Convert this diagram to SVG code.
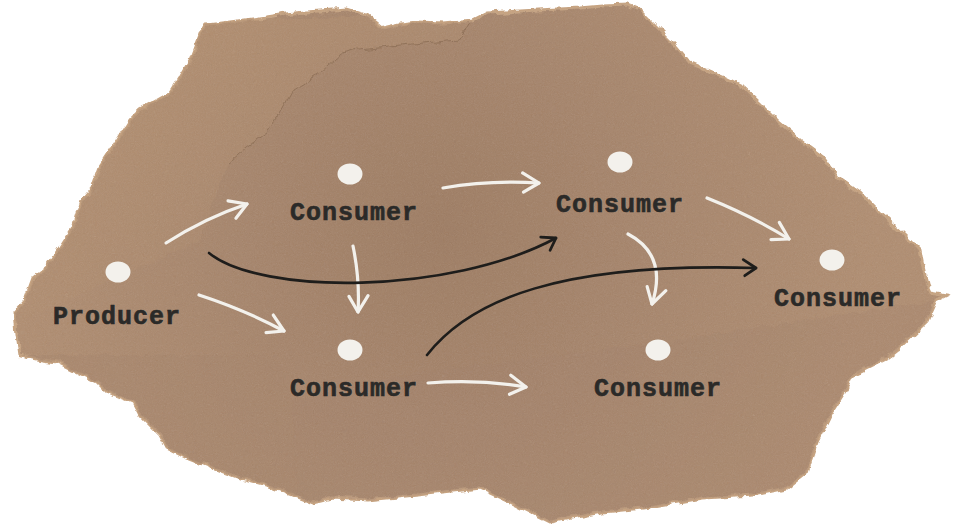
<svg xmlns="http://www.w3.org/2000/svg" width="953" height="525" viewBox="0 0 953 525">
  <defs>
    <style>
      .label { font-family: "Liberation Mono", "DejaVu Sans Mono", monospace; font-weight: bold; font-size: 25px; letter-spacing: 1px; fill: #2b2a28; stroke: #2b2a28; stroke-width: 0.6; text-anchor: middle; }
      .dot { fill: #f3f1ec; }
      .wire-w { fill: none; stroke: #f3f1ec; stroke-width: 3.2; stroke-linecap: round; stroke-linejoin: round; }
      .wire-b { fill: none; stroke: #1e1d1b; stroke-width: 2.6; stroke-linecap: round; stroke-linejoin: round; }
    </style>
    <marker id="headW" viewBox="-20 -12 24 24" markerWidth="24" markerHeight="24" refX="0" refY="0" orient="auto" markerUnits="userSpaceOnUse">
      <path d="M-17,-9 L0,0 L-15,10" fill="none" stroke="#f3f1ec" stroke-width="3.2" stroke-linecap="round" stroke-linejoin="round"/>
    </marker>
    <marker id="headB" viewBox="-20 -12 24 24" markerWidth="24" markerHeight="24" refX="0" refY="0" orient="auto" markerUnits="userSpaceOnUse">
      <path d="M-13,-8 L0,0 L-11,8" fill="none" stroke="#1e1d1b" stroke-width="2.8" stroke-linecap="round" stroke-linejoin="round"/>
    </marker>
    <radialGradient id="shade" cx="440" cy="230" r="430" gradientUnits="userSpaceOnUse">
      <stop offset="0" stop-color="#9e7c62"/>
      <stop offset="0.45" stop-color="#a6846a"/>
      <stop offset="1" stop-color="#b08d70"/>
    </radialGradient>
    <linearGradient id="fadeTL" x1="0" y1="0" x2="1" y2="1">
      <stop offset="0" stop-color="#b6916f" stop-opacity="0.8"/>
      <stop offset="0.6" stop-color="#b08d6f" stop-opacity="0.4"/>
      <stop offset="1" stop-color="#ad8b6e" stop-opacity="0"/>
    </linearGradient>
    <filter id="rough" x="-5%" y="-5%" width="110%" height="110%">
      <feTurbulence type="fractalNoise" baseFrequency="0.09" numOctaves="3" seed="4" result="t"/>
      <feDisplacementMap in="SourceGraphic" in2="t" scale="7" xChannelSelector="R" yChannelSelector="G"/>
    </filter>
    <filter id="grain" x="0" y="0" width="100%" height="100%">
      <feTurbulence type="fractalNoise" baseFrequency="0.9" numOctaves="2" seed="11"/>
      <feColorMatrix type="saturate" values="0"/>
    </filter>
    <clipPath id="paperClip">
      <path id="paperShape" d="M207,25 L230,22 L260,18 L293,13 L320,11 L347,9 L367,15 L383,28 L400,24 L417,22 L443,23 L473,20 L487,13 L537,10 L580,8 L603,6 L627,5 L640,10 L657,27 L677,47 L690,63 L723,77 L743,87 L760,103 L780,123 L800,140 L823,157 L837,177 L860,193 L880,213 L903,233 L920,250 L923,267 L927,285 L930,292 L947,295 L937,300 L927,322 L903,345 L887,358 L853,375 L847,388 L830,415 L817,442 L807,472 L787,488 L753,495 L703,498 L643,508 L603,512 L550,522 L510,502 L480,488 L417,495 L367,500 L333,498 L313,503 L293,495 L267,485 L240,478 L213,468 L187,458 L167,448 L160,435 L140,415 L133,402 L107,392 L97,382 L73,370 L57,362 L43,360 L20,355 L17,335 L15,311 L25,300 L33,278 L47,267 L60,247 L73,227 L80,203 L93,187 L100,167 L113,147 L130,120 L140,110 L170,93 L180,77 L190,60 L200,33 Z"/>
    </clipPath>
  </defs>

  <rect width="953" height="525" fill="#ffffff"/>

  <!-- torn paper background -->
  <g id="paper" filter="url(#rough)">
    <use href="#paperShape" fill="url(#shade)" stroke="#c6a381" stroke-width="3"/>
    <g clip-path="url(#paperClip)">
      <!-- upper-left layer beyond the inner tear -->
      <path d="M200,20 L480,15 L470,23 L460,40 L400,45 L357,49 L343,53 L320,73 L293,90 L280,113 L267,133 L247,147 L227,163 L200,240 L0,330 L0,20 Z" fill="url(#fadeTL)"/>
      <!-- lower-left flap -->
      <path d="M0,355 L275,355 L292,400 L300,525 L0,525 Z" fill="#a5846a" opacity="0.5"/>
      <!-- lower band -->
      <path d="M292,400 L420,372 L640,345 L940,300 L953,525 L300,525 Z" fill="#a3816a" opacity="0.3"/>
      <rect width="953" height="525" filter="url(#grain)" opacity="0.14"/>
    </g>
    <path d="M227,163 L247,147 L267,133 L280,113 L293,90 L320,73 L343,53 L357,49 L400,45 L460,40 L470,23" fill="none" stroke="#7d6049" stroke-width="1" opacity="0.55"/>
  </g>

  <!-- connectors -->
  <g id="connectors">
    <path class="wire-w" d="M166,243 Q205,218 247,204" marker-end="url(#headW)"/>
    <path class="wire-w" d="M199,295 Q245,310 284,331" marker-end="url(#headW)"/>
    <path class="wire-w" d="M353,246 Q360,280 358,312" marker-end="url(#headW)"/>
    <path class="wire-w" d="M443,188 Q490,180 539,183" marker-end="url(#headW)"/>
    <path class="wire-w" d="M707,198 Q752,216 789,239" marker-end="url(#headW)"/>
    <path class="wire-w" d="M628,234 Q668,255 652,304" marker-end="url(#headW)"/>
    <path class="wire-w" d="M428,383 Q480,379 526,387" marker-end="url(#headW)"/>
    <path class="wire-b" d="M209,253 C260,295 450,295 556,238" marker-end="url(#headB)"/>
    <path class="wire-b" d="M427,355 C470,300 560,262 756,268" marker-end="url(#headB)"/>
  </g>

  <!-- nodes -->
  <g id="producer">
    <ellipse class="dot" cx="118" cy="272" rx="12.5" ry="10.5"/>
    <text class="label" x="117" y="324">Producer</text>
  </g>
  <g id="consumer-1">
    <ellipse class="dot" cx="350" cy="174" rx="12.5" ry="10.5"/>
    <text class="label" x="354" y="220">Consumer</text>
  </g>
  <g id="consumer-2">
    <ellipse class="dot" cx="620" cy="162" rx="12.5" ry="10.5"/>
    <text class="label" x="620" y="212">Consumer</text>
  </g>
  <g id="consumer-3">
    <ellipse class="dot" cx="832" cy="260" rx="12.5" ry="10.5"/>
    <text class="label" x="838" y="306">Consumer</text>
  </g>
  <g id="consumer-4">
    <ellipse class="dot" cx="350" cy="350" rx="12.5" ry="10.5"/>
    <text class="label" x="354" y="396">Consumer</text>
  </g>
  <g id="consumer-5">
    <ellipse class="dot" cx="658" cy="350" rx="12.5" ry="10.5"/>
    <text class="label" x="658" y="396">Consumer</text>
  </g>
</svg>
